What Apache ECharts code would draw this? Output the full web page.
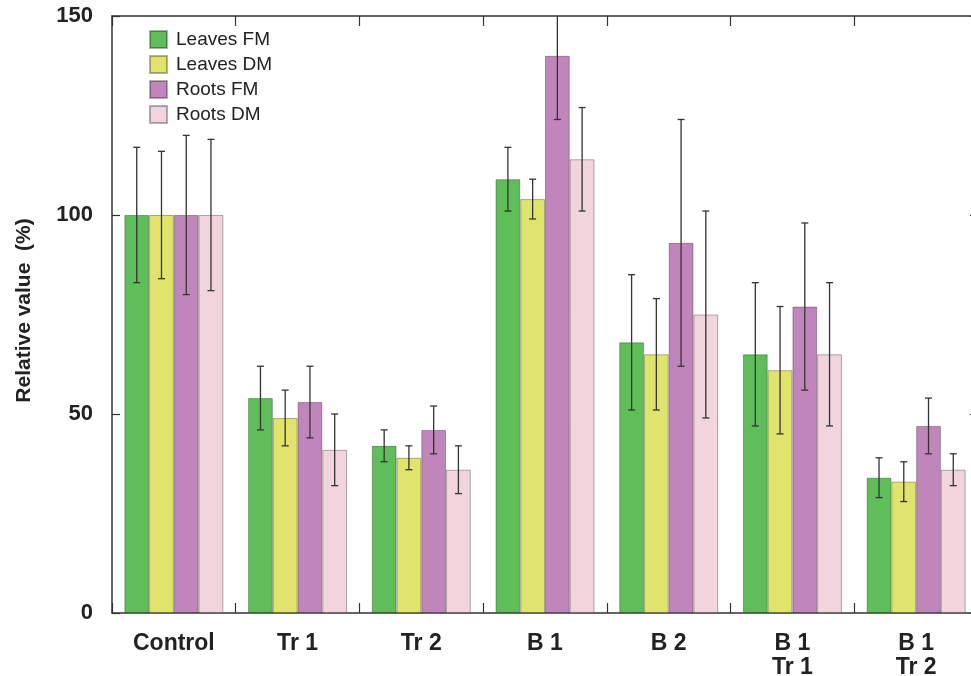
<!DOCTYPE html>
<html>
<head>
<meta charset="utf-8">
<script src="https://cdn.jsdelivr.net/npm/echarts@6/dist/echarts.min.js"></script>
<style>
html,body{margin:0;padding:0;background:#fff;}
#chart{width:971px;height:676px;}
</style>
</head>
<body>
<div id="chart"></div>
<script>
var categories = ['Control', 'Tr 1', 'Tr 2', 'B 1', 'B 2', 'B 1\nTr 1', 'B 1\nTr 2'];
var seriesNames = ['Leaves FM', 'Leaves DM', 'Roots FM', 'Roots DM'];
var leavesFM = [100, 54, 42, 109, 68, 65, 34];
var leavesFMErr = [17, 8, 4, 8, 17, 18, 5];
var leavesDM = [100, 49, 39, 104, 65, 61, 33];
var leavesDMErr = [16, 7, 3, 5, 14, 16, 5];
var rootsFM = [100, 53, 46, 140, 93, 77, 47];
var rootsFMErr = [20, 9, 6, 16, 31, 21, 7];
var rootsDM = [100, 41, 36, 114, 75, 65, 36];
var rootsDMErr = [19, 9, 6, 13, 26, 18, 4];
var yTicks = [0, 50, 100, 150];

var values = [leavesFM, leavesDM, rootsFM, rootsDM];
var errors = [leavesFMErr, leavesDMErr, rootsFMErr, rootsDMErr];
var colors = ['#5fbe5a', '#e1e46c', '#c086bb', '#f1d4dc'];
var FONT = '"Liberation Sans", Arial, Helvetica, sans-serif';
var CAT_GAP = 0.2;

var chart = echarts.init(document.getElementById('chart'), null, {renderer: 'canvas'});

function makeErr(idx) {
  return function (params, api) {
    var cat = api.value(0), v = api.value(1), e = api.value(2);
    var band = api.size([1, 0])[0];
    var bw = band * (1 - CAT_GAP) / 4;
    var c = api.coord([cat, v]);
    var x = c[0] + (idx - 1.5) * bw;
    var top = api.coord([cat, v + e])[1];
    var bot = api.coord([cat, v - e])[1];
    var cap = 3.5;
    var st = {stroke: '#333', lineWidth: 1.3};
    return {
      type: 'group',
      children: [
        {type: 'line', shape: {x1: x, y1: top, x2: x, y2: bot}, style: st},
        {type: 'line', shape: {x1: x - cap, y1: top, x2: x + cap, y2: top}, style: st},
        {type: 'line', shape: {x1: x - cap, y1: bot, x2: x + cap, y2: bot}, style: st}
      ]
    };
  };
}

var series = [];
seriesNames.forEach(function (name, i) {
  series.push({
    name: name,
    type: 'bar',
    data: values[i],
    barGap: '0%',
    barCategoryGap: (CAT_GAP * 100) + '%',
    itemStyle: {color: colors[i], borderColor: 'rgba(0,0,0,0.3)', borderWidth: 1},
    emphasis: {disabled: true}
  });
});
seriesNames.forEach(function (name, i) {
  series.push({
    type: 'custom',
    name: name + ' err',
    clip: true,
    z: 5,
    data: values[i].map(function (v, k) { return [k, v, errors[i][k]]; }),
    encode: {x: 0, y: 1},
    renderItem: makeErr(i)
  });
});

var axisLine = {show: true, onZero: false, lineStyle: {color: '#333', width: 1.5}};
var tickStyle = {color: '#333', width: 1.2};

var option = {
  animation: false,
  backgroundColor: '#fff',
  textStyle: {fontFamily: FONT},
  grid: {left: 112, top: 16, bottom: 63, width: 866, containLabel: false, outerBoundsMode: 'none'},
  legend: {
    data: seriesNames,
    orient: 'vertical',
    left: 144,
    top: 25,
    itemWidth: 17,
    itemHeight: 17,
    itemGap: 6,
    icon: 'rect',
    textStyle: {fontFamily: FONT, fontSize: 19, color: '#222', padding: [0, 0, 0, 4]}
  },
  xAxis: [{
    type: 'category',
    data: categories,
    position: 'bottom',
    axisLine: axisLine,
    axisTick: {show: true, inside: true, length: 10, alignWithLabel: false, lineStyle: tickStyle},
    axisLabel: {fontFamily: FONT, fontSize: 23, fontWeight: 'bold', color: '#222', margin: 19, lineHeight: 24, interval: 0},
    splitLine: {show: false}
  }, {
    type: 'category',
    data: categories,
    position: 'top',
    axisLine: axisLine,
    axisTick: {show: true, inside: true, length: 10, alignWithLabel: false, lineStyle: tickStyle},
    axisLabel: {show: false},
    splitLine: {show: false}
  }],
  yAxis: [{
    type: 'value',
    min: 0, max: 150, interval: 50,
    position: 'left',
    name: 'Relative value  (%)',
    nameLocation: 'middle',
    nameRotate: 90,
    nameGap: 77,
    nameTextStyle: {fontFamily: FONT, fontSize: 21, fontWeight: 'bold', color: '#222', padding: [0, 0, 0, 8]},
    axisLine: axisLine,
    axisTick: {show: true, inside: true, length: 8, lineStyle: tickStyle},
    axisLabel: {fontFamily: FONT, fontSize: 22, fontWeight: 'bold', color: '#222', margin: 19,
      formatter: function (v) { return yTicks.indexOf(v) >= 0 ? String(v) : ''; }},
    splitLine: {show: false}
  }, {
    type: 'value',
    min: 0, max: 150, interval: 50,
    position: 'right',
    axisLine: axisLine,
    axisTick: {show: true, inside: true, length: 8, lineStyle: tickStyle},
    axisLabel: {show: false},
    splitLine: {show: false}
  }],
  series: series
};
chart.setOption(option);
</script>
</body>
</html>
